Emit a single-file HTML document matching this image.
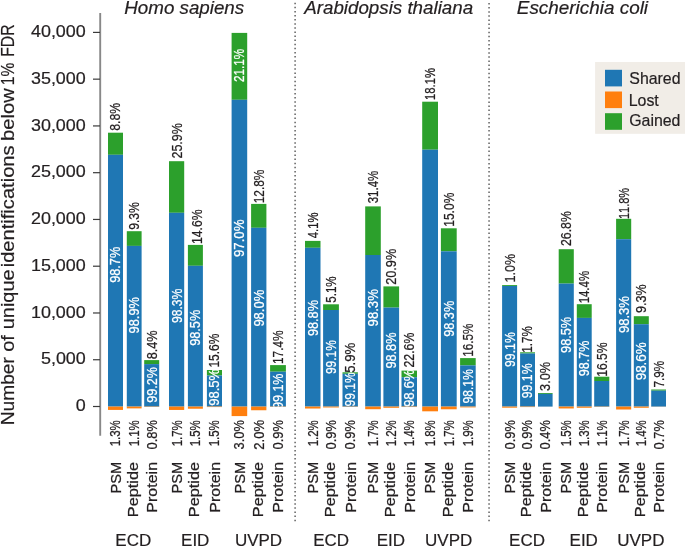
<!DOCTYPE html>
<html><head><meta charset="utf-8"><style>
html,body{margin:0;padding:0;background:#fff;}
body{width:685px;height:547px;overflow:hidden;}
svg{display:block;will-change:transform;font-family:"Liberation Sans",sans-serif;font-kerning:none;}
svg text{font-kerning:none;}
</style></head><body>
<svg width="685" height="547" viewBox="0 0 685 547"><defs><clipPath id="c1"><rect x="108" y="0" width="15" height="406.6"/></clipPath><clipPath id="c2"><rect x="126.8" y="0" width="14.8" height="406.6"/></clipPath><clipPath id="c3"><rect x="144.2" y="0" width="15" height="406.6"/></clipPath><clipPath id="c4"><rect x="169" y="0" width="15.2" height="406.6"/></clipPath><clipPath id="c5"><rect x="187.9" y="0" width="15" height="406.6"/></clipPath><clipPath id="c6"><rect x="206.9" y="0" width="15.1" height="406.6"/></clipPath><clipPath id="c7"><rect x="231.6" y="0" width="15.6" height="406.6"/></clipPath><clipPath id="c8"><rect x="251.1" y="0" width="15.3" height="406.6"/></clipPath><clipPath id="c9"><rect x="270.1" y="0" width="15.8" height="406.6"/></clipPath><clipPath id="c10"><rect x="305" y="0" width="15.5" height="406.6"/></clipPath><clipPath id="c11"><rect x="323.1" y="0" width="15.8" height="406.6"/></clipPath><clipPath id="c12"><rect x="342.5" y="0" width="15.4" height="406.6"/></clipPath><clipPath id="c13"><rect x="365.2" y="0" width="15.6" height="406.6"/></clipPath><clipPath id="c14"><rect x="383.4" y="0" width="15.7" height="406.6"/></clipPath><clipPath id="c15"><rect x="401.5" y="0" width="15.5" height="406.6"/></clipPath><clipPath id="c16"><rect x="440.9" y="0" width="15.8" height="406.6"/></clipPath><clipPath id="c17"><rect x="460.1" y="0" width="15.6" height="406.6"/></clipPath><clipPath id="c18"><rect x="502.1" y="0" width="15" height="406.6"/></clipPath><clipPath id="c19"><rect x="520.1" y="0" width="14.9" height="406.6"/></clipPath><clipPath id="c20"><rect x="558.7" y="0" width="15.1" height="406.6"/></clipPath><clipPath id="c21"><rect x="576.8" y="0" width="14.9" height="406.6"/></clipPath><clipPath id="c22"><rect x="616.1" y="0" width="15.1" height="406.6"/></clipPath><clipPath id="c23"><rect x="633.8" y="0" width="15" height="406.6"/></clipPath></defs><rect width="685" height="547" fill="#fff"/><line x1="100.2" y1="13" x2="100.2" y2="435.7" stroke="#888" stroke-width="1.9"/><line x1="93" y1="406.5" x2="100" y2="406.5" stroke="#3a3a3a" stroke-width="1.2"/><text transform="translate(75.83,411.12) scale(1.12,1)" style="font-size:16px;fill:#231f20;stroke:#231f20;stroke-width:0.2px;">0</text><line x1="93" y1="359.74" x2="100" y2="359.74" stroke="#3a3a3a" stroke-width="1.2"/><text transform="translate(40.96,364.36) scale(1.12,1)" style="font-size:16px;fill:#231f20;stroke:#231f20;stroke-width:0.2px;">5,000</text><line x1="93" y1="312.98" x2="100" y2="312.98" stroke="#3a3a3a" stroke-width="1.2"/><text transform="translate(30.99,317.6) scale(1.12,1)" style="font-size:16px;fill:#231f20;stroke:#231f20;stroke-width:0.2px;">10,000</text><line x1="93" y1="266.21" x2="100" y2="266.21" stroke="#3a3a3a" stroke-width="1.2"/><text transform="translate(30.99,270.83) scale(1.12,1)" style="font-size:16px;fill:#231f20;stroke:#231f20;stroke-width:0.2px;">15,000</text><line x1="93" y1="219.45" x2="100" y2="219.45" stroke="#3a3a3a" stroke-width="1.2"/><text transform="translate(30.99,224.07) scale(1.12,1)" style="font-size:16px;fill:#231f20;stroke:#231f20;stroke-width:0.2px;">20,000</text><line x1="93" y1="172.69" x2="100" y2="172.69" stroke="#3a3a3a" stroke-width="1.2"/><text transform="translate(30.99,177.31) scale(1.12,1)" style="font-size:16px;fill:#231f20;stroke:#231f20;stroke-width:0.2px;">25,000</text><line x1="93" y1="125.93" x2="100" y2="125.93" stroke="#3a3a3a" stroke-width="1.2"/><text transform="translate(30.99,130.55) scale(1.12,1)" style="font-size:16px;fill:#231f20;stroke:#231f20;stroke-width:0.2px;">30,000</text><line x1="93" y1="79.16" x2="100" y2="79.16" stroke="#3a3a3a" stroke-width="1.2"/><text transform="translate(30.99,83.78) scale(1.12,1)" style="font-size:16px;fill:#231f20;stroke:#231f20;stroke-width:0.2px;">35,000</text><line x1="93" y1="32.4" x2="100" y2="32.4" stroke="#3a3a3a" stroke-width="1.2"/><text transform="translate(30.99,37.02) scale(1.12,1)" style="font-size:16px;fill:#231f20;stroke:#231f20;stroke-width:0.2px;">40,000</text><line x1="295.1" y1="2.69" x2="295.1" y2="521.15" stroke="#555" stroke-width="1.4" stroke-dasharray="1.5 2.6029"/><line x1="489.05" y1="2.98" x2="489.05" y2="521.15" stroke="#555" stroke-width="1.4" stroke-dasharray="1.5 2.6006"/><rect x="108" y="132.7" width="15" height="22.1" fill="#2ca02c"/><rect x="108" y="154.8" width="15" height="251.8" fill="#1f77b4"/><rect x="108" y="406.6" width="15" height="3.32" fill="#ff7f0e"/><g><text transform="translate(120.42,130.73) rotate(-90) scale(0.86,1)" style="font-size:14.3px;fill:#231f20;stroke:#231f20;stroke-width:0.25px;">8.8%</text></g><g clip-path="url(#c1)"><text transform="translate(120.42,282.8) rotate(-90) scale(0.89,1)" style="font-size:14.3px;fill:#fff;stroke:#fff;stroke-width:0.25px;">98.7%</text></g><g><text transform="translate(120.42,446.28) rotate(-90) scale(0.8,1)" style="font-size:14.3px;fill:#231f20;stroke:#231f20;stroke-width:0.25px;">1.3%</text></g><rect x="126.8" y="231.2" width="14.8" height="14.7" fill="#2ca02c"/><rect x="126.8" y="245.9" width="14.8" height="160.7" fill="#1f77b4"/><rect x="126.8" y="406.6" width="14.8" height="1.79" fill="#ff7f0e"/><g><text transform="translate(139.12,229.77) rotate(-90) scale(0.85,1)" style="font-size:14.3px;fill:#231f20;stroke:#231f20;stroke-width:0.25px;">9.3%</text></g><g clip-path="url(#c2)"><text transform="translate(139.12,333.5) rotate(-90) scale(0.9,1)" style="font-size:14.3px;fill:#fff;stroke:#fff;stroke-width:0.25px;">98.9%</text></g><g><text transform="translate(139.12,446.28) rotate(-90) scale(0.8,1)" style="font-size:14.3px;fill:#231f20;stroke:#231f20;stroke-width:0.25px;">1.1%</text></g><rect x="144.2" y="360.1" width="15" height="4" fill="#2ca02c"/><rect x="144.2" y="364.1" width="15" height="42.5" fill="#1f77b4"/><rect x="144.2" y="406.6" width="15" height="0.34" fill="#ff7f0e"/><g><text transform="translate(156.62,359.36) rotate(-90) scale(0.89,1)" style="font-size:14.3px;fill:#231f20;stroke:#231f20;stroke-width:0.25px;">8.4%</text></g><g clip-path="url(#c3)"><text transform="translate(156.62,402.79) rotate(-90) scale(0.88,1)" style="font-size:14.3px;fill:#fff;stroke:#fff;stroke-width:0.25px;">99.2%</text></g><g><text transform="translate(156.62,449.5) rotate(-90) scale(0.9,1)" style="font-size:14.3px;fill:#231f20;stroke:#231f20;stroke-width:0.25px;">0.8%</text></g><rect x="169" y="161.2" width="15.2" height="51.6" fill="#2ca02c"/><rect x="169" y="212.8" width="15.2" height="193.8" fill="#1f77b4"/><rect x="169" y="406.6" width="15.2" height="3.35" fill="#ff7f0e"/><g><text transform="translate(181.52,158.53) rotate(-90) scale(0.87,1)" style="font-size:14.3px;fill:#231f20;stroke:#231f20;stroke-width:0.25px;">25.9%</text></g><g clip-path="url(#c4)"><text transform="translate(181.52,323.07) rotate(-90) scale(0.85,1)" style="font-size:14.3px;fill:#fff;stroke:#fff;stroke-width:0.25px;">98.3%</text></g><g><text transform="translate(181.52,446.28) rotate(-90) scale(0.8,1)" style="font-size:14.3px;fill:#231f20;stroke:#231f20;stroke-width:0.25px;">1.7%</text></g><rect x="187.9" y="244.9" width="15" height="20.9" fill="#2ca02c"/><rect x="187.9" y="265.8" width="15" height="140.8" fill="#1f77b4"/><rect x="187.9" y="406.6" width="15" height="2.14" fill="#ff7f0e"/><g><text transform="translate(202.32,243.92) rotate(-90) scale(0.85,1)" style="font-size:14.3px;fill:#231f20;stroke:#231f20;stroke-width:0.25px;">14.6%</text></g><g clip-path="url(#c5)"><text transform="translate(200.32,345.8) rotate(-90) scale(0.89,1)" style="font-size:14.3px;fill:#fff;stroke:#fff;stroke-width:0.25px;">98.5%</text></g><g><text transform="translate(200.29,446.28) rotate(-90) scale(0.8,1)" style="font-size:14.3px;fill:#231f20;stroke:#231f20;stroke-width:0.25px;">1.5%</text></g><rect x="206.9" y="370" width="15.1" height="5.5" fill="#2ca02c"/><rect x="206.9" y="375.5" width="15.1" height="31.1" fill="#1f77b4"/><rect x="206.9" y="406.6" width="15.1" height="0.47" fill="#ff7f0e"/><g><text transform="translate(219.37,367.62) rotate(-90) scale(0.84,1)" style="font-size:14.3px;fill:#231f20;stroke:#231f20;stroke-width:0.25px;">15.6%</text></g><g clip-path="url(#c6)"><text transform="translate(219.37,405.71) rotate(-90) scale(0.91,1)" style="font-size:14.3px;fill:#fff;stroke:#fff;stroke-width:0.25px;">98.5%</text></g><g><text transform="translate(219.34,446.28) rotate(-90) scale(0.8,1)" style="font-size:14.3px;fill:#231f20;stroke:#231f20;stroke-width:0.25px;">1.5%</text></g><rect x="231.6" y="32.9" width="15.6" height="66.9" fill="#2ca02c"/><rect x="231.6" y="99.8" width="15.6" height="306.8" fill="#1f77b4"/><rect x="231.6" y="406.6" width="15.6" height="9.49" fill="#ff7f0e"/><g><text transform="translate(244.35,81.99) rotate(-90) scale(0.82,1)" style="font-size:14.3px;fill:#fff;stroke:#fff;stroke-width:0.25px;">21.1%</text></g><g clip-path="url(#c7)"><text transform="translate(244.32,257.12) rotate(-90) scale(0.93,1)" style="font-size:14.3px;fill:#fff;stroke:#fff;stroke-width:0.25px;">97.0%</text></g><g><text transform="translate(244.32,449.49) rotate(-90) scale(0.9,1)" style="font-size:14.3px;fill:#231f20;stroke:#231f20;stroke-width:0.25px;">3.0%</text></g><rect x="251.1" y="203.9" width="15.3" height="23.9" fill="#2ca02c"/><rect x="251.1" y="227.8" width="15.3" height="178.8" fill="#1f77b4"/><rect x="251.1" y="406.6" width="15.3" height="3.65" fill="#ff7f0e"/><g><text transform="translate(263.67,203.3) rotate(-90) scale(0.83,1)" style="font-size:14.3px;fill:#231f20;stroke:#231f20;stroke-width:0.25px;">12.8%</text></g><g clip-path="url(#c8)"><text transform="translate(263.67,326.61) rotate(-90) scale(0.91,1)" style="font-size:14.3px;fill:#fff;stroke:#fff;stroke-width:0.25px;">98.0%</text></g><g><text transform="translate(263.67,449.65) rotate(-90) scale(0.91,1)" style="font-size:14.3px;fill:#231f20;stroke:#231f20;stroke-width:0.25px;">2.0%</text></g><rect x="270.1" y="365.1" width="15.8" height="6.6" fill="#2ca02c"/><rect x="270.1" y="371.7" width="15.8" height="34.9" fill="#1f77b4"/><rect x="270.1" y="406.6" width="15.8" height="0.32" fill="#ff7f0e"/><g><text transform="translate(282.92,364.01) rotate(-90) scale(0.83,1)" style="font-size:14.3px;fill:#231f20;stroke:#231f20;stroke-width:0.25px;">17.4%</text></g><g clip-path="url(#c9)"><text transform="translate(282.92,409.09) rotate(-90) scale(0.88,1)" style="font-size:14.3px;fill:#fff;stroke:#fff;stroke-width:0.25px;">99.1%</text></g><g><text transform="translate(282.92,449.5) rotate(-90) scale(0.9,1)" style="font-size:14.3px;fill:#231f20;stroke:#231f20;stroke-width:0.25px;">0.9%</text></g><rect x="305" y="240.9" width="15.5" height="6.9" fill="#2ca02c"/><rect x="305" y="247.8" width="15.5" height="158.8" fill="#1f77b4"/><rect x="305" y="406.6" width="15.5" height="1.93" fill="#ff7f0e"/><g><text transform="translate(317.67,238.16) rotate(-90) scale(0.79,1)" style="font-size:14.3px;fill:#231f20;stroke:#231f20;stroke-width:0.25px;">4.1%</text></g><g clip-path="url(#c10)"><text transform="translate(317.67,336.1) rotate(-90) scale(0.89,1)" style="font-size:14.3px;fill:#fff;stroke:#fff;stroke-width:0.25px;">98.8%</text></g><g><text transform="translate(317.7,446.28) rotate(-90) scale(0.8,1)" style="font-size:14.3px;fill:#231f20;stroke:#231f20;stroke-width:0.25px;">1.2%</text></g><rect x="323.1" y="304.3" width="15.8" height="5.7" fill="#2ca02c"/><rect x="323.1" y="310" width="15.8" height="96.6" fill="#1f77b4"/><rect x="323.1" y="406.6" width="15.8" height="0.88" fill="#ff7f0e"/><g><text transform="translate(335.89,302.77) rotate(-90) scale(0.81,1)" style="font-size:14.3px;fill:#231f20;stroke:#231f20;stroke-width:0.25px;">5.1%</text></g><g clip-path="url(#c11)"><text transform="translate(335.92,374.06) rotate(-90) scale(0.84,1)" style="font-size:14.3px;fill:#fff;stroke:#fff;stroke-width:0.25px;">99.1%</text></g><g><text transform="translate(335.92,449.5) rotate(-90) scale(0.9,1)" style="font-size:14.3px;fill:#231f20;stroke:#231f20;stroke-width:0.25px;">0.9%</text></g><rect x="342.5" y="372.3" width="15.4" height="1.5" fill="#2ca02c"/><rect x="342.5" y="373.8" width="15.4" height="32.8" fill="#1f77b4"/><rect x="342.5" y="406.6" width="15.4" height="0.3" fill="#ff7f0e"/><g><text transform="translate(355.12,372.83) rotate(-90) scale(0.92,1)" style="font-size:14.3px;fill:#231f20;stroke:#231f20;stroke-width:0.25px;">5.9%</text></g><g clip-path="url(#c12)"><text transform="translate(355.12,406.46) rotate(-90) scale(0.84,1)" style="font-size:14.3px;fill:#fff;stroke:#fff;stroke-width:0.25px;">99.1%</text></g><g><text transform="translate(355.12,449.5) rotate(-90) scale(0.9,1)" style="font-size:14.3px;fill:#231f20;stroke:#231f20;stroke-width:0.25px;">0.9%</text></g><rect x="365.2" y="206.4" width="15.6" height="48.6" fill="#2ca02c"/><rect x="365.2" y="255" width="15.6" height="151.6" fill="#1f77b4"/><rect x="365.2" y="406.6" width="15.6" height="2.62" fill="#ff7f0e"/><g><text transform="translate(377.92,203.24) rotate(-90) scale(0.8,1)" style="font-size:14.3px;fill:#231f20;stroke:#231f20;stroke-width:0.25px;">31.4%</text></g><g clip-path="url(#c13)"><text transform="translate(377.92,326.42) rotate(-90) scale(0.92,1)" style="font-size:14.3px;fill:#fff;stroke:#fff;stroke-width:0.25px;">98.3%</text></g><g><text transform="translate(377.92,446.28) rotate(-90) scale(0.8,1)" style="font-size:14.3px;fill:#231f20;stroke:#231f20;stroke-width:0.25px;">1.7%</text></g><rect x="383.4" y="286.4" width="15.7" height="21.2" fill="#2ca02c"/><rect x="383.4" y="307.6" width="15.7" height="99" fill="#1f77b4"/><rect x="383.4" y="406.6" width="15.7" height="1.2" fill="#ff7f0e"/><g><text transform="translate(396.17,284.84) rotate(-90) scale(0.89,1)" style="font-size:14.3px;fill:#231f20;stroke:#231f20;stroke-width:0.25px;">20.9%</text></g><g clip-path="url(#c14)"><text transform="translate(396.17,368.6) rotate(-90) scale(0.89,1)" style="font-size:14.3px;fill:#fff;stroke:#fff;stroke-width:0.25px;">98.8%</text></g><g><text transform="translate(396.2,446.28) rotate(-90) scale(0.8,1)" style="font-size:14.3px;fill:#231f20;stroke:#231f20;stroke-width:0.25px;">1.2%</text></g><rect x="401.5" y="370.6" width="15.5" height="6.6" fill="#2ca02c"/><rect x="401.5" y="377.2" width="15.5" height="29.4" fill="#1f77b4"/><rect x="401.5" y="406.6" width="15.5" height="0.42" fill="#ff7f0e"/><g><text transform="translate(414.17,367.52) rotate(-90) scale(0.86,1)" style="font-size:14.3px;fill:#231f20;stroke:#231f20;stroke-width:0.25px;">22.6%</text></g><g clip-path="url(#c15)"><text transform="translate(414.17,407.02) rotate(-90) scale(0.93,1)" style="font-size:14.3px;fill:#fff;stroke:#fff;stroke-width:0.25px;">98.6%</text></g><g><text transform="translate(414.17,446.28) rotate(-90) scale(0.8,1)" style="font-size:14.3px;fill:#231f20;stroke:#231f20;stroke-width:0.25px;">1.4%</text></g><rect x="422.2" y="101.7" width="15.8" height="48" fill="#2ca02c"/><rect x="422.2" y="149.7" width="15.8" height="256.9" fill="#1f77b4"/><rect x="422.2" y="406.6" width="15.8" height="4.71" fill="#ff7f0e"/><g><text transform="translate(435.02,99.96) rotate(-90) scale(0.79,1)" style="font-size:14.3px;fill:#231f20;stroke:#231f20;stroke-width:0.25px;">18.1%</text></g><g><text transform="translate(435.02,446.28) rotate(-90) scale(0.8,1)" style="font-size:14.3px;fill:#231f20;stroke:#231f20;stroke-width:0.25px;">1.8%</text></g><rect x="440.9" y="228.3" width="15.8" height="23" fill="#2ca02c"/><rect x="440.9" y="251.3" width="15.8" height="155.3" fill="#1f77b4"/><rect x="440.9" y="406.6" width="15.8" height="2.69" fill="#ff7f0e"/><g><text transform="translate(453.72,226.72) rotate(-90) scale(0.84,1)" style="font-size:14.3px;fill:#231f20;stroke:#231f20;stroke-width:0.25px;">15.0%</text></g><g clip-path="url(#c16)"><text transform="translate(453.72,336.8) rotate(-90) scale(0.89,1)" style="font-size:14.3px;fill:#fff;stroke:#fff;stroke-width:0.25px;">98.3%</text></g><g><text transform="translate(453.72,446.28) rotate(-90) scale(0.8,1)" style="font-size:14.3px;fill:#231f20;stroke:#231f20;stroke-width:0.25px;">1.7%</text></g><rect x="460.1" y="358.1" width="15.6" height="7.3" fill="#2ca02c"/><rect x="460.1" y="365.4" width="15.6" height="41.2" fill="#1f77b4"/><rect x="460.1" y="406.6" width="15.6" height="0.8" fill="#ff7f0e"/><g><text transform="translate(472.82,356.79) rotate(-90) scale(0.82,1)" style="font-size:14.3px;fill:#231f20;stroke:#231f20;stroke-width:0.25px;">16.5%</text></g><g clip-path="url(#c17)"><text transform="translate(472.82,403.57) rotate(-90) scale(0.85,1)" style="font-size:14.3px;fill:#fff;stroke:#fff;stroke-width:0.25px;">98.1%</text></g><g><text transform="translate(472.82,446.28) rotate(-90) scale(0.8,1)" style="font-size:14.3px;fill:#231f20;stroke:#231f20;stroke-width:0.25px;">1.9%</text></g><rect x="502.1" y="285.1" width="15" height="0.9" fill="#2ca02c"/><rect x="502.1" y="286" width="15" height="120.6" fill="#1f77b4"/><rect x="502.1" y="406.6" width="15" height="1.1" fill="#ff7f0e"/><g><text transform="translate(514.52,282.56) rotate(-90) scale(0.88,1)" style="font-size:14.3px;fill:#231f20;stroke:#231f20;stroke-width:0.25px;">1.0%</text></g><g clip-path="url(#c18)"><text transform="translate(514.52,366.97) rotate(-90) scale(0.86,1)" style="font-size:14.3px;fill:#fff;stroke:#fff;stroke-width:0.25px;">99.1%</text></g><g><text transform="translate(514.52,449.5) rotate(-90) scale(0.9,1)" style="font-size:14.3px;fill:#231f20;stroke:#231f20;stroke-width:0.25px;">0.9%</text></g><rect x="520.1" y="352.3" width="14.9" height="1.2" fill="#2ca02c"/><rect x="520.1" y="353.5" width="14.9" height="53.1" fill="#1f77b4"/><rect x="520.1" y="406.6" width="14.9" height="0.48" fill="#ff7f0e"/><g><text transform="translate(532.47,352.69) rotate(-90) scale(0.81,1)" style="font-size:14.3px;fill:#231f20;stroke:#231f20;stroke-width:0.25px;">1.7%</text></g><g clip-path="url(#c19)"><text transform="translate(532.47,398.27) rotate(-90) scale(0.86,1)" style="font-size:14.3px;fill:#fff;stroke:#fff;stroke-width:0.25px;">99.1%</text></g><g><text transform="translate(532.47,449.5) rotate(-90) scale(0.9,1)" style="font-size:14.3px;fill:#231f20;stroke:#231f20;stroke-width:0.25px;">0.9%</text></g><rect x="538" y="393" width="14.6" height="0.9" fill="#2ca02c"/><rect x="538" y="393.9" width="14.6" height="12.7" fill="#1f77b4"/><rect x="538" y="406.6" width="14.6" height="0.05" fill="#ff7f0e"/><g><text transform="translate(550.22,390.89) rotate(-90) scale(0.89,1)" style="font-size:14.3px;fill:#231f20;stroke:#231f20;stroke-width:0.25px;">3.0%</text></g><g><text transform="translate(550.22,449.5) rotate(-90) scale(0.9,1)" style="font-size:14.3px;fill:#231f20;stroke:#231f20;stroke-width:0.25px;">0.4%</text></g><rect x="558.7" y="249.2" width="15.1" height="34.4" fill="#2ca02c"/><rect x="558.7" y="283.6" width="15.1" height="123" fill="#1f77b4"/><rect x="558.7" y="406.6" width="15.1" height="1.87" fill="#ff7f0e"/><g><text transform="translate(571.17,246.02) rotate(-90) scale(0.86,1)" style="font-size:14.3px;fill:#231f20;stroke:#231f20;stroke-width:0.25px;">26.8%</text></g><g clip-path="url(#c20)"><text transform="translate(571.17,352.9) rotate(-90) scale(0.89,1)" style="font-size:14.3px;fill:#fff;stroke:#fff;stroke-width:0.25px;">98.5%</text></g><g><text transform="translate(571.14,446.28) rotate(-90) scale(0.8,1)" style="font-size:14.3px;fill:#231f20;stroke:#231f20;stroke-width:0.25px;">1.5%</text></g><rect x="576.8" y="304.2" width="14.9" height="13.7" fill="#2ca02c"/><rect x="576.8" y="317.9" width="14.9" height="88.7" fill="#1f77b4"/><rect x="576.8" y="406.6" width="14.9" height="1.17" fill="#ff7f0e"/><g><text transform="translate(589.17,303.37) rotate(-90) scale(0.8,1)" style="font-size:14.3px;fill:#231f20;stroke:#231f20;stroke-width:0.25px;">14.4%</text></g><g clip-path="url(#c21)"><text transform="translate(589.17,376.29) rotate(-90) scale(0.88,1)" style="font-size:14.3px;fill:#fff;stroke:#fff;stroke-width:0.25px;">98.7%</text></g><g><text transform="translate(589.17,446.28) rotate(-90) scale(0.8,1)" style="font-size:14.3px;fill:#231f20;stroke:#231f20;stroke-width:0.25px;">1.3%</text></g><rect x="594.2" y="376.7" width="15.1" height="4.3" fill="#2ca02c"/><rect x="594.2" y="381" width="15.1" height="25.6" fill="#1f77b4"/><rect x="594.2" y="406.6" width="15.1" height="0.28" fill="#ff7f0e"/><g><text transform="translate(606.67,376.83) rotate(-90) scale(0.85,1)" style="font-size:14.3px;fill:#231f20;stroke:#231f20;stroke-width:0.25px;">16.5%</text></g><g><text transform="translate(606.67,446.28) rotate(-90) scale(0.8,1)" style="font-size:14.3px;fill:#231f20;stroke:#231f20;stroke-width:0.25px;">1.1%</text></g><rect x="616.1" y="218.8" width="15.1" height="20.4" fill="#2ca02c"/><rect x="616.1" y="239.2" width="15.1" height="167.4" fill="#1f77b4"/><rect x="616.1" y="406.6" width="15.1" height="2.9" fill="#ff7f0e"/><g><text transform="translate(628.57,219.04) rotate(-90) scale(0.77,1)" style="font-size:14.3px;fill:#231f20;stroke:#231f20;stroke-width:0.25px;">11.8%</text></g><g clip-path="url(#c22)"><text transform="translate(628.57,333.01) rotate(-90) scale(0.91,1)" style="font-size:14.3px;fill:#fff;stroke:#fff;stroke-width:0.25px;">98.3%</text></g><g><text transform="translate(628.57,446.28) rotate(-90) scale(0.8,1)" style="font-size:14.3px;fill:#231f20;stroke:#231f20;stroke-width:0.25px;">1.7%</text></g><rect x="633.8" y="316.2" width="15" height="8" fill="#2ca02c"/><rect x="633.8" y="324.2" width="15" height="82.4" fill="#1f77b4"/><rect x="633.8" y="406.6" width="15" height="1.17" fill="#ff7f0e"/><g><text transform="translate(646.22,312.89) rotate(-90) scale(0.88,1)" style="font-size:14.3px;fill:#231f20;stroke:#231f20;stroke-width:0.25px;">9.3%</text></g><g clip-path="url(#c23)"><text transform="translate(646.22,380.33) rotate(-90) scale(0.94,1)" style="font-size:14.3px;fill:#fff;stroke:#fff;stroke-width:0.25px;">98.6%</text></g><g><text transform="translate(646.22,446.28) rotate(-90) scale(0.8,1)" style="font-size:14.3px;fill:#231f20;stroke:#231f20;stroke-width:0.25px;">1.4%</text></g><rect x="651.2" y="389.5" width="14.8" height="1.2" fill="#2ca02c"/><rect x="651.2" y="390.7" width="14.8" height="15.9" fill="#1f77b4"/><rect x="651.2" y="406.6" width="14.8" height="0.11" fill="#ff7f0e"/><g><text transform="translate(663.52,387.5) rotate(-90) scale(0.82,1)" style="font-size:14.3px;fill:#231f20;stroke:#231f20;stroke-width:0.25px;">7.9%</text></g><g><text transform="translate(663.52,449.5) rotate(-90) scale(0.9,1)" style="font-size:14.3px;fill:#231f20;stroke:#231f20;stroke-width:0.25px;">0.7%</text></g><g><text transform="translate(120.7,493.54) rotate(-90) scale(0.97,1)" style="font-size:15.1px;fill:#231f20;stroke:#231f20;stroke-width:0.25px;">PSM</text></g><g><text transform="translate(138.1,517.24) rotate(-90) scale(1.08,1)" style="font-size:15.1px;fill:#231f20;stroke:#231f20;stroke-width:0.25px;">Peptide</text></g><g><text transform="translate(157.1,512.63) rotate(-90) scale(1.06,1)" style="font-size:15.1px;fill:#231f20;stroke:#231f20;stroke-width:0.25px;">Protein</text></g><text transform="translate(115.36,545.53) scale(1,1)" style="font-size:17px;fill:#231f20;stroke:#231f20;stroke-width:0.2px;">ECD</text><g><text transform="translate(181.8,493.54) rotate(-90) scale(0.97,1)" style="font-size:15.1px;fill:#231f20;stroke:#231f20;stroke-width:0.25px;">PSM</text></g><g><text transform="translate(199.3,517.24) rotate(-90) scale(1.08,1)" style="font-size:15.1px;fill:#231f20;stroke:#231f20;stroke-width:0.25px;">Peptide</text></g><g><text transform="translate(219.85,512.63) rotate(-90) scale(1.06,1)" style="font-size:15.1px;fill:#231f20;stroke:#231f20;stroke-width:0.25px;">Protein</text></g><text transform="translate(181.04,545.7) scale(1,1)" style="font-size:17px;fill:#231f20;stroke:#231f20;stroke-width:0.2px;">EID</text><g><text transform="translate(244.6,493.54) rotate(-90) scale(0.97,1)" style="font-size:15.1px;fill:#231f20;stroke:#231f20;stroke-width:0.25px;">PSM</text></g><g><text transform="translate(262.65,517.24) rotate(-90) scale(1.08,1)" style="font-size:15.1px;fill:#231f20;stroke:#231f20;stroke-width:0.25px;">Peptide</text></g><g><text transform="translate(283.4,512.63) rotate(-90) scale(1.06,1)" style="font-size:15.1px;fill:#231f20;stroke:#231f20;stroke-width:0.25px;">Protein</text></g><text transform="translate(234.89,545.53) scale(1,1)" style="font-size:17px;fill:#231f20;stroke:#231f20;stroke-width:0.2px;">UVPD</text><g><text transform="translate(317.95,493.54) rotate(-90) scale(0.97,1)" style="font-size:15.1px;fill:#231f20;stroke:#231f20;stroke-width:0.25px;">PSM</text></g><g><text transform="translate(334.9,517.24) rotate(-90) scale(1.08,1)" style="font-size:15.1px;fill:#231f20;stroke:#231f20;stroke-width:0.25px;">Peptide</text></g><g><text transform="translate(355.6,512.63) rotate(-90) scale(1.06,1)" style="font-size:15.1px;fill:#231f20;stroke:#231f20;stroke-width:0.25px;">Protein</text></g><text transform="translate(313.21,545.53) scale(1,1)" style="font-size:17px;fill:#231f20;stroke:#231f20;stroke-width:0.2px;">ECD</text><g><text transform="translate(378.2,493.54) rotate(-90) scale(0.97,1)" style="font-size:15.1px;fill:#231f20;stroke:#231f20;stroke-width:0.25px;">PSM</text></g><g><text transform="translate(395.15,517.24) rotate(-90) scale(1.08,1)" style="font-size:15.1px;fill:#231f20;stroke:#231f20;stroke-width:0.25px;">Peptide</text></g><g><text transform="translate(414.65,512.63) rotate(-90) scale(1.06,1)" style="font-size:15.1px;fill:#231f20;stroke:#231f20;stroke-width:0.25px;">Protein</text></g><text transform="translate(376.64,545.7) scale(1,1)" style="font-size:17px;fill:#231f20;stroke:#231f20;stroke-width:0.2px;">EID</text><g><text transform="translate(435.3,493.54) rotate(-90) scale(0.97,1)" style="font-size:15.1px;fill:#231f20;stroke:#231f20;stroke-width:0.25px;">PSM</text></g><g><text transform="translate(452.7,517.24) rotate(-90) scale(1.08,1)" style="font-size:15.1px;fill:#231f20;stroke:#231f20;stroke-width:0.25px;">Peptide</text></g><g><text transform="translate(473.3,512.63) rotate(-90) scale(1.06,1)" style="font-size:15.1px;fill:#231f20;stroke:#231f20;stroke-width:0.25px;">Protein</text></g><text transform="translate(425.09,545.53) scale(1,1)" style="font-size:17px;fill:#231f20;stroke:#231f20;stroke-width:0.2px;">UVPD</text><g><text transform="translate(514.8,493.54) rotate(-90) scale(0.97,1)" style="font-size:15.1px;fill:#231f20;stroke:#231f20;stroke-width:0.25px;">PSM</text></g><g><text transform="translate(531.45,517.24) rotate(-90) scale(1.08,1)" style="font-size:15.1px;fill:#231f20;stroke:#231f20;stroke-width:0.25px;">Peptide</text></g><g><text transform="translate(550.7,512.63) rotate(-90) scale(1.06,1)" style="font-size:15.1px;fill:#231f20;stroke:#231f20;stroke-width:0.25px;">Protein</text></g><text transform="translate(509.11,545.53) scale(1,1)" style="font-size:17px;fill:#231f20;stroke:#231f20;stroke-width:0.2px;">ECD</text><g><text transform="translate(571.45,493.54) rotate(-90) scale(0.97,1)" style="font-size:15.1px;fill:#231f20;stroke:#231f20;stroke-width:0.25px;">PSM</text></g><g><text transform="translate(588.15,517.24) rotate(-90) scale(1.08,1)" style="font-size:15.1px;fill:#231f20;stroke:#231f20;stroke-width:0.25px;">Peptide</text></g><g><text transform="translate(607.15,512.63) rotate(-90) scale(1.06,1)" style="font-size:15.1px;fill:#231f20;stroke:#231f20;stroke-width:0.25px;">Protein</text></g><text transform="translate(569.54,545.7) scale(1,1)" style="font-size:17px;fill:#231f20;stroke:#231f20;stroke-width:0.2px;">EID</text><g><text transform="translate(628.85,493.54) rotate(-90) scale(0.97,1)" style="font-size:15.1px;fill:#231f20;stroke:#231f20;stroke-width:0.25px;">PSM</text></g><g><text transform="translate(645.2,517.24) rotate(-90) scale(1.08,1)" style="font-size:15.1px;fill:#231f20;stroke:#231f20;stroke-width:0.25px;">Peptide</text></g><g><text transform="translate(664,512.63) rotate(-90) scale(1.06,1)" style="font-size:15.1px;fill:#231f20;stroke:#231f20;stroke-width:0.25px;">Protein</text></g><text transform="translate(617.19,545.53) scale(1,1)" style="font-size:17px;fill:#231f20;stroke:#231f20;stroke-width:0.2px;">UVPD</text><text transform="translate(124.32,14) scale(1,1)" style="font-style:italic;font-size:18.75px;fill:#231f20;stroke:#231f20;stroke-width:0.2px;">Homo sapiens</text><text transform="translate(304.22,14) scale(1,1)" style="font-style:italic;font-size:18.75px;fill:#231f20;stroke:#231f20;stroke-width:0.2px;">Arabidopsis thaliana</text><text transform="translate(516.82,14) scale(1,1)" style="font-style:italic;font-size:18.9px;fill:#231f20;stroke:#231f20;stroke-width:0.2px;">Escherichia coli</text><text transform="translate(14.1,425.28) rotate(-90) scale(1.01,1)" style="font-size:19px;fill:#231f20;stroke:#231f20;stroke-width:0.2px">Number</text><text transform="translate(14.1,351.84) rotate(-90) scale(1.05,1)" style="font-size:19px;fill:#231f20;stroke:#231f20;stroke-width:0.2px">of</text><text transform="translate(14.1,329.29) rotate(-90) scale(1.05,1)" style="font-size:19px;fill:#231f20;stroke:#231f20;stroke-width:0.2px">unique</text><text transform="translate(14.1,267.34) rotate(-90) scale(1.06,1)" style="font-size:19px;fill:#231f20;stroke:#231f20;stroke-width:0.2px">identifications</text><text transform="translate(14.1,140.9) rotate(-90) scale(1.06,1)" style="font-size:19px;fill:#231f20;stroke:#231f20;stroke-width:0.2px">below</text><text transform="translate(14.1,85.19) rotate(-90) scale(0.82,1)" style="font-size:19px;fill:#231f20;stroke:#231f20;stroke-width:0.2px">1%</text><text transform="translate(14.1,56.79) rotate(-90) scale(0.83,1)" style="font-size:19px;fill:#231f20;stroke:#231f20;stroke-width:0.2px">FDR</text><rect x="595.1" y="62" width="95" height="71.8" fill="#f1ede7"/><rect x="605" y="69.8" width="17" height="16.6" fill="#1f77b4"/><rect x="605" y="91.5" width="17" height="16.6" fill="#ff7f0e"/><rect x="605" y="113.2" width="17" height="16.6" fill="#2ca02c"/><text transform="translate(629.28,83.5) scale(1,1)" style="font-size:15.9px;fill:#231f20;stroke:#231f20;stroke-width:0.2px;">Shared</text><text transform="translate(628.7,105.9) scale(1,1)" style="font-size:15.9px;fill:#231f20;stroke:#231f20;stroke-width:0.2px;">Lost</text><text transform="translate(629.2,126.1) scale(1,1)" style="font-size:15.9px;fill:#231f20;stroke:#231f20;stroke-width:0.2px;">Gained</text></svg>
</body></html>
